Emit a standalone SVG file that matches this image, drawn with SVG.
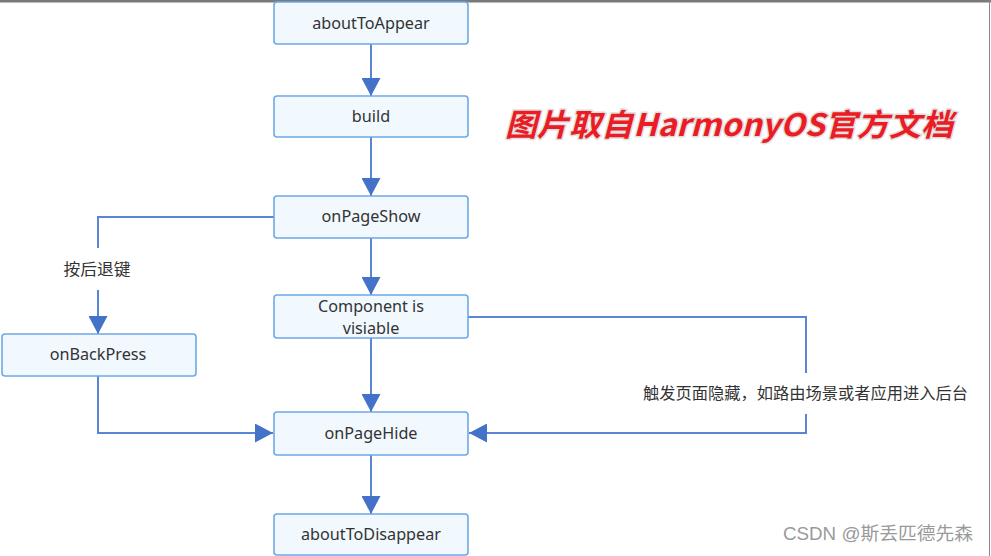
<svg xmlns="http://www.w3.org/2000/svg" width="991" height="556" viewBox="0 0 991 556">
<style>
.box{fill:#f1f8fe;stroke:#6ea8e6;stroke-width:1.6}
.lbl{font-family:"Noto Sans","Liberation Sans",sans-serif;font-size:16.2px;fill:#333;text-anchor:middle;dominant-baseline:central}
.cn{font-family:"Noto Sans CJK SC",sans-serif;font-size:16px;fill:#333;text-anchor:middle;dominant-baseline:central}
.con{fill:none;stroke:#5a85d6;stroke-width:2}
</style>
<defs>
<marker id="ah" markerUnits="userSpaceOnUse" viewBox="0 0 18 19" markerWidth="18" markerHeight="19" refX="18" refY="9.5" orient="auto">
<path d="M0,0 L18,9.5 L0,19 z" fill="#4472c8"/>
</marker>
</defs>
<rect x="0" y="0" width="991" height="556" fill="#fff"/>
<rect x="0" y="0" width="991" height="2.5" fill="#7a7a7a"/>
<line x1="989.5" y1="0" x2="989.5" y2="556" stroke="#888" stroke-width="1"/>

<g id="connectors">
<path class="con" d="M371,44 V96" marker-end="url(#ah)"/>
<path class="con" d="M371,137 V196" marker-end="url(#ah)"/>
<path class="con" d="M371,238 V295" marker-end="url(#ah)"/>
<path class="con" d="M371,338 V412" marker-end="url(#ah)"/>
<path class="con" d="M371,455 V514" marker-end="url(#ah)"/>
<path class="con" d="M274,217 H98 V248"/>
<path class="con" d="M98,290 V334" marker-end="url(#ah)"/>
<text class="cn" x="97" y="268" textLength="67" lengthAdjust="spacingAndGlyphs">按后退键</text>
<path class="con" d="M98,376 V433 H273" marker-end="url(#ah)"/>
<path class="con" d="M468,317 H806 V373"/>
<path class="con" d="M806,414 V433 H469" marker-end="url(#ah)"/>
<text class="cn" x="805.5" y="392" textLength="325" lengthAdjust="spacingAndGlyphs">触发页面隐藏，如路由场景或者应用进入后台</text>
</g>

<g id="aboutToAppear"><rect class="box" x="274" y="2" width="194" height="42" rx="3"/><text class="lbl" x="371" y="22.5">aboutToAppear</text></g>
<g id="build"><rect class="box" x="274" y="96" width="194" height="41" rx="3"/><text class="lbl" x="371" y="115.5">build</text></g>
<g id="onPageShow"><rect class="box" x="274" y="196" width="194" height="42" rx="3"/><text class="lbl" x="371" y="216">onPageShow</text></g>
<g id="componentVisible"><rect class="box" x="274" y="295" width="194" height="43" rx="3"/><text class="lbl" x="371" y="305.5">Component is</text><text class="lbl" x="371" y="328">visiable</text></g>
<g id="onBackPress"><rect class="box" x="2" y="334" width="194" height="42" rx="3"/><text class="lbl" x="98" y="353.5">onBackPress</text></g>
<g id="onPageHide"><rect class="box" x="274" y="412" width="194" height="43" rx="3"/><text class="lbl" x="371" y="433">onPageHide</text></g>
<g id="aboutToDisappear"><rect class="box" x="274" y="514" width="194" height="41" rx="3"/><text class="lbl" x="371" y="533.5">aboutToDisappear</text></g>

<text x="505" y="136" textLength="448" lengthAdjust="spacingAndGlyphs" font-family="'Noto Sans CJK SC','Noto Sans',sans-serif" font-size="31" font-weight="bold" font-style="italic" fill="#ec1c24" stroke="#e0e0e0" stroke-width="3" paint-order="stroke" stroke-linejoin="round">图片取自HarmonyOS官方文档</text>
<text x="783" y="540" textLength="190" lengthAdjust="spacingAndGlyphs" font-family="'Liberation Sans','Noto Sans CJK SC',sans-serif" font-size="18" fill="#9a9a9a">CSDN @斯丢匹德先森</text>
</svg>
